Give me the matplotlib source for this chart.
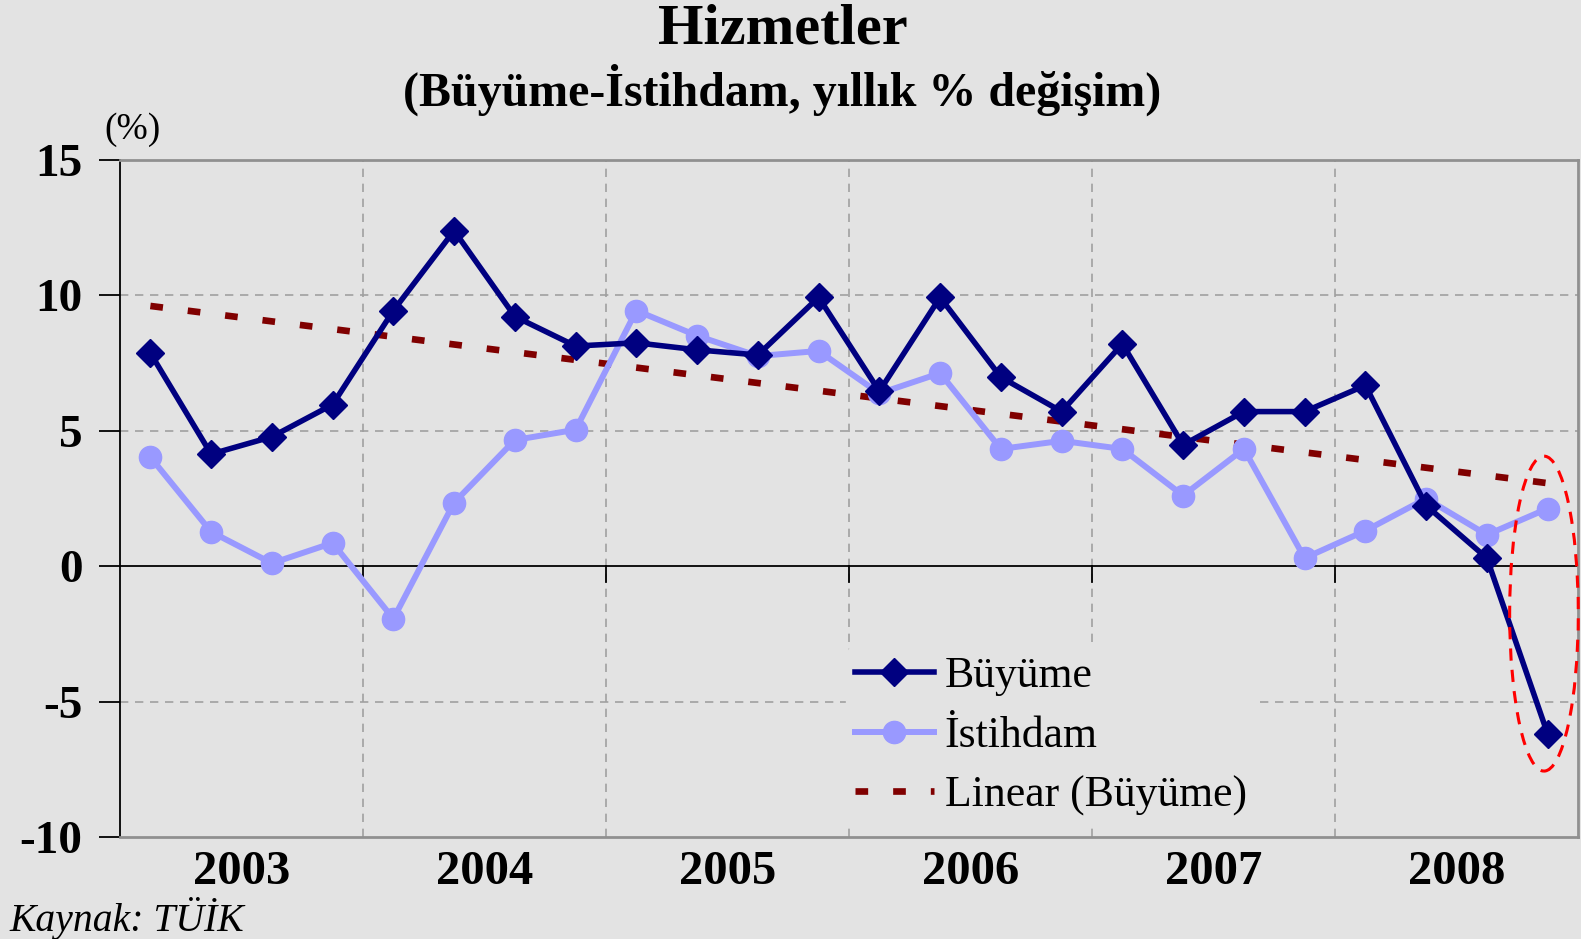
import numpy as np
import matplotlib.pyplot as plt
from matplotlib.patches import Ellipse

years = ["2003", "2004", "2005", "2006", "2007", "2008"]
buyume = [7.87, 4.14, 4.78, 5.97, 9.44, 12.39, 9.22, 8.13, 8.25, 7.99, 7.80, 9.93,
          6.46, 9.93, 6.98, 5.71, 8.21, 4.48, 5.71, 5.71, 6.68, 2.24, 0.30, -6.19]
istihdam = [4.03, 1.27, 0.11, 0.86, -1.94, 2.35, 4.66, 5.04, 9.44, 8.51, 7.76, 7.95,
            6.38, 7.13, 4.33, 4.63, 4.33, 2.61, 4.33, 0.30, 1.31, 2.50, 1.16, 2.13]
yticks = [-10, -5, 0, 5, 10, 15]

bg = "#E3E3E3"
serif = ["Liberation Serif", "DejaVu Serif"]
plt.rcParams['font.family'] = serif

fig = plt.figure(figsize=(15.81, 9.39), dpi=100, facecolor=bg)
ax = fig.add_axes([0.0759, 0.1086, 0.9222, 0.7210], facecolor=bg)

x = np.arange(len(buyume))
coef = np.polyfit(x, buyume, 1)
trend = np.polyval(coef, x)

ax.set_xlim(-0.5, len(buyume) - 0.5)
ax.set_ylim(-10, 15)

# grid
for yv in [-5, 5, 10]:
    ax.axhline(yv, color="#A0A0A0", lw=1.2, ls=(0, (5, 4)), zorder=1)
bounds = np.arange(3.5, len(buyume) - 1, 4)
for xb in bounds:
    ax.axvline(xb, color="#A0A0A0", lw=1.2, ls=(0, (5, 4)), zorder=1)
ax.axhline(0, color="black", lw=1.3, zorder=2)
for xb in bounds:
    ax.plot([xb, xb], [0, -0.58], color="black", lw=1.3, zorder=2)

l1, = ax.plot(x, buyume, color="#000080", lw=4, marker="D", markersize=14,
              zorder=5, label="Büyüme")
l2, = ax.plot(x, istihdam, color="#9999FF", lw=4.3, marker="o", markersize=16,
              zorder=4, label="İstihdam")
l3, = ax.plot(x, trend, color="#800000", lw=4.8, ls=(0, (1.9, 3.75)),
              zorder=3, label="Linear (Büyüme)")

ell = Ellipse((22.94, -1.75), width=1.13, height=11.63, fill=False,
              edgecolor="red", lw=2.2, ls=(0, (4, 3)), zorder=6, clip_on=False)
ax.add_patch(ell)

ax.set_yticks(yticks)
ax.set_yticklabels([str(v) for v in yticks], fontsize=34, fontweight="bold")
ax.tick_params(axis="y", direction="out", length=15, width=1.3, pad=12)
ax.set_xticks(np.arange(1.5, len(buyume), 4))
ax.set_xticklabels(years, fontsize=35, fontweight="bold")
ax.tick_params(axis="x", length=0, pad=9)

ax.spines["left"].set_color("black")
ax.spines["left"].set_linewidth(1.3)
for s in ["top", "right", "bottom"]:
    ax.spines[s].set_color("#909090")
    ax.spines[s].set_linewidth(2)

leg = ax.legend(handles=[l1, l2, l3], loc="center left",
                bbox_to_anchor=(0.483, 0.149), frameon=True, fontsize=31.5,
                handlelength=1.8, handletextpad=0.25, labelspacing=0.45,
                borderpad=0.2)
leg.get_frame().set_facecolor(bg)
leg.get_frame().set_edgecolor(bg)
leg.get_frame().set_alpha(1)
leg.set_zorder(7)

fig.text(0.495, 0.969, "Hizmetler", ha="center", va="center", fontsize=42,
         fontweight="bold")
fig.text(0.495, 0.904, "(Büyüme-İstihdam, yıllık % değişim)", ha="center",
         va="center", fontsize=34.5, fontweight="bold")
fig.text(0.066, 0.862, "(%)", ha="left", va="center", fontsize=27)
fig.text(0.006, 0.022, "Kaynak: TÜİK", ha="left", va="center", fontsize=28.5,
         style="italic")

fig.savefig("out.png", dpi=100, facecolor=bg)
